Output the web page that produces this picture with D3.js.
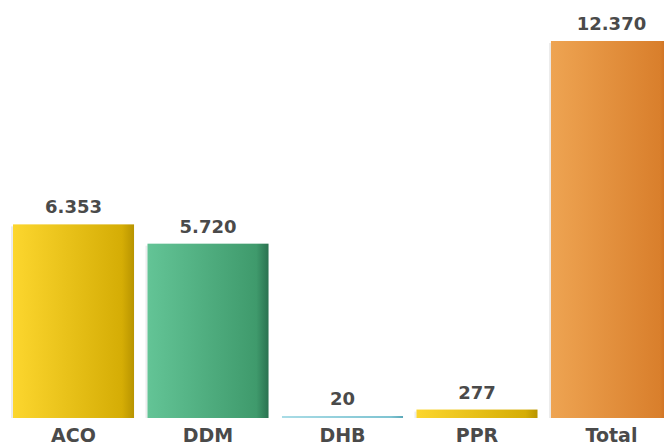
<!DOCTYPE html>
<html>
<head>
<meta charset="utf-8">
<script src="https://cdn.jsdelivr.net/npm/d3@7"></script>
<style>
  body { margin: 0; background: #fff; }
  text { font-family: "DejaVu Sans", Verdana, sans-serif; font-weight: bold; fill: #4a4a4a; }
</style>
</head>
<body>
<svg id="chart" width="664" height="447"></svg>
<script>
var categories = ["ACO", "DDM", "DHB", "PPR", "Total"];
var values = [6353, 5720, 20, 277, 12370];
var gradStops = [
  ["#fcd62e", "#d5ad05", "#b89400"],
  ["#63c496", "#3f9a6c", "#2a7250"],
  ["#a9dce6", "#7fc4d2", "#5aa8b8"],
  ["#fcd62e", "#d5ad05", "#b89400"],
  ["#eea452", "#d97f2c", "#c2621a"]
];

var svg = d3.select("#chart"),
    width = +svg.attr("width"),
    height = +svg.attr("height");

var baseY = 418;

var x = d3.scaleBand()
  .domain(categories)
  .range([13, 672])
  .paddingInner(0.1)
  .paddingOuter(0);

var y = d3.scaleLinear()
  .domain([0, 12370])
  .range([baseY, 41]);

var fmt = d3.formatLocale({decimal: ",", thousands: ".", grouping: [3], currency: ["", ""]}).format(",d");

var defs = svg.append("defs");
categories.forEach(function(c, i) {
  var g = defs.append("linearGradient")
    .attr("id", "grad" + i)
    .attr("x1", "0%").attr("x2", "100%").attr("y1", "0%").attr("y2", "0%");
  g.append("stop").attr("offset", "0%").attr("stop-color", gradStops[i][0]);
  g.append("stop").attr("offset", "90%").attr("stop-color", gradStops[i][1]);
  g.append("stop").attr("offset", "100%").attr("stop-color", gradStops[i][2]);
});

var data = categories.map(function(c, i) { return {cat: c, val: values[i], idx: i}; });

function barTop(d) { return Math.min(y(d.val), baseY - 2); }

// faint shadow to the left of the bars
svg.selectAll(".shadow")
  .data(data)
  .enter().append("rect")
    .attr("class", "shadow")
    .attr("x", function(d) { return x(d.cat) - 2; })
    .attr("y", function(d) { return barTop(d) + 2; })
    .attr("width", 2)
    .attr("height", function(d) { return baseY - barTop(d) - 2; })
    .attr("fill", "#ececec");

svg.selectAll(".bar")
  .data(data)
  .enter().append("rect")
    .attr("class", "bar")
    .attr("x", function(d) { return x(d.cat); })
    .attr("y", barTop)
    .attr("width", x.bandwidth())
    .attr("height", function(d) { return baseY - barTop(d); })
    .attr("fill", function(d) { return "url(#grad" + d.idx + ")"; });

svg.selectAll(".val")
  .data(data)
  .enter().append("text")
    .attr("class", "val")
    .attr("x", function(d) { return x(d.cat) + x.bandwidth() / 2; })
    .attr("y", function(d) { return barTop(d) - 11; })
    .attr("text-anchor", "middle")
    .attr("font-size", "18px")
    .text(function(d) { return fmt(d.val); });

svg.selectAll(".cat")
  .data(data)
  .enter().append("text")
    .attr("class", "cat")
    .attr("x", function(d) { return x(d.cat) + x.bandwidth() / 2; })
    .attr("y", 442)
    .attr("text-anchor", "middle")
    .attr("font-size", "19px")
    .text(function(d) { return d.cat; });
</script>
</body>
</html>
